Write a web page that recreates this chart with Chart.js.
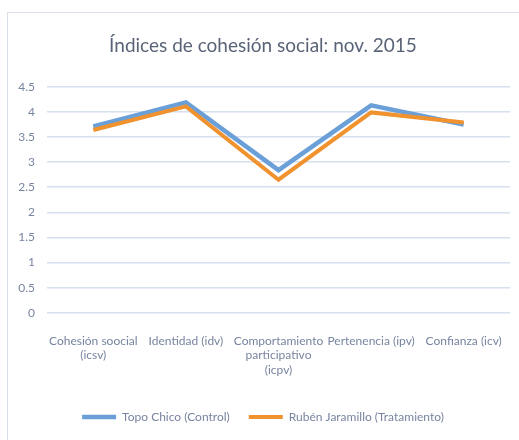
<!DOCTYPE html>
<html lang="es">
<head>
    <meta charset="UTF-8">
    <title>Índices de cohesión social</title>
    <script src="https://cdn.jsdelivr.net/npm/chart.js"></script>
    <style>
        body { margin: 0; background: #ffffff; }
        .frame {
            position: absolute; left: 7px; top: 12px;
            width: 512px; height: 428px;
            border-left: 1px solid #d9dfe7; border-top: 1px solid #d9dfe7;
        }
    </style>
</head>
<body>
    <div class="frame">
        <canvas id="lineChart" width="512" height="428"></canvas>
    </div>

    <script>
        const categories = [
            ['Cohesión soocial', '(icsv)'],
            'Identidad (idv)',
            ['Comportamiento', 'participativo', '(icpv)'],
            'Pertenencia (ipv)',
            'Confianza (icv)'
        ];
        const topoChico = [3.71, 4.19, 2.84, 4.13, 3.75];
        const rubenJaramillo = [3.64, 4.11, 2.65, 3.99, 3.79];
        const yTicks = [0, 0.5, 1, 1.5, 2, 2.5, 3, 3.5, 4, 4.5];

        const textColor = '#7884a0';
        const fontFamily = 'Lato, "Open Sans", sans-serif';

        const ctx = document.getElementById('lineChart').getContext('2d');
        new Chart(ctx, {
            type: 'line',
            data: {
                labels: categories,
                datasets: [{
                    label: 'Topo Chico (Control)',
                    data: topoChico,
                    borderColor: '#6a9fd8',
                    backgroundColor: '#6a9fd8',
                    borderWidth: 4.5,
                    pointRadius: 0,
                    order: 2
                }, {
                    label: 'Rubén Jaramillo (Tratamiento)',
                    data: rubenJaramillo,
                    borderColor: '#f0922e',
                    backgroundColor: '#f0922e',
                    borderWidth: 4,
                    pointRadius: 0,
                    order: 1
                }]
            },
            options: {
                responsive: false,
                animation: false,
                layout: { padding: { left: 8, right: 10, top: 12, bottom: 8 } },
                plugins: {
                    title: {
                        display: true,
                        text: 'Índices de cohesión social: nov. 2015',
                        color: '#5a6478',
                        font: { family: fontFamily, size: 19, weight: 'normal' },
                        padding: { top: 9, bottom: 30 }
                    },
                    legend: {
                        position: 'bottom',
                        labels: {
                            usePointStyle: true,
                            pointStyle: 'line',
                            pointStyleWidth: 34,
                            color: textColor,
                            font: { family: fontFamily, size: 12 },
                            padding: 19,
                            sort: (a, b) => a.datasetIndex - b.datasetIndex
                        }
                    },
                    tooltip: { enabled: false }
                },
                scales: {
                    x: {
                        offset: true,
                        grid: { display: false, drawTicks: true, tickLength: 21 },
                        border: { display: false },
                        // labels fit inside their category bands, no extra side padding
                        afterFit: axis => {
                            axis.paddingLeft = 0;
                            axis.paddingRight = 0;
                            axis.height += 15;
                        },
                        ticks: {
                            color: textColor,
                            font: { family: fontFamily, size: 12 },
                            maxRotation: 0,
                            autoSkip: false,
                            padding: 0
                        }
                    },
                    y: {
                        min: 0,
                        max: 4.5,
                        afterBuildTicks: axis => { axis.ticks = yTicks.map(v => ({ value: v })); },
                        afterFit: axis => { axis.width = 31; },
                        grid: { color: '#d6e0ef', lineWidth: 1.5, drawTicks: true, tickLength: 12, tickColor: 'transparent' },
                        border: { display: false },
                        ticks: {
                            color: textColor,
                            font: { family: fontFamily, size: 12 },
                            padding: 0,
                            callback: v => String(v)
                        }
                    }
                }
            }
        });
    </script>
</body>
</html>
